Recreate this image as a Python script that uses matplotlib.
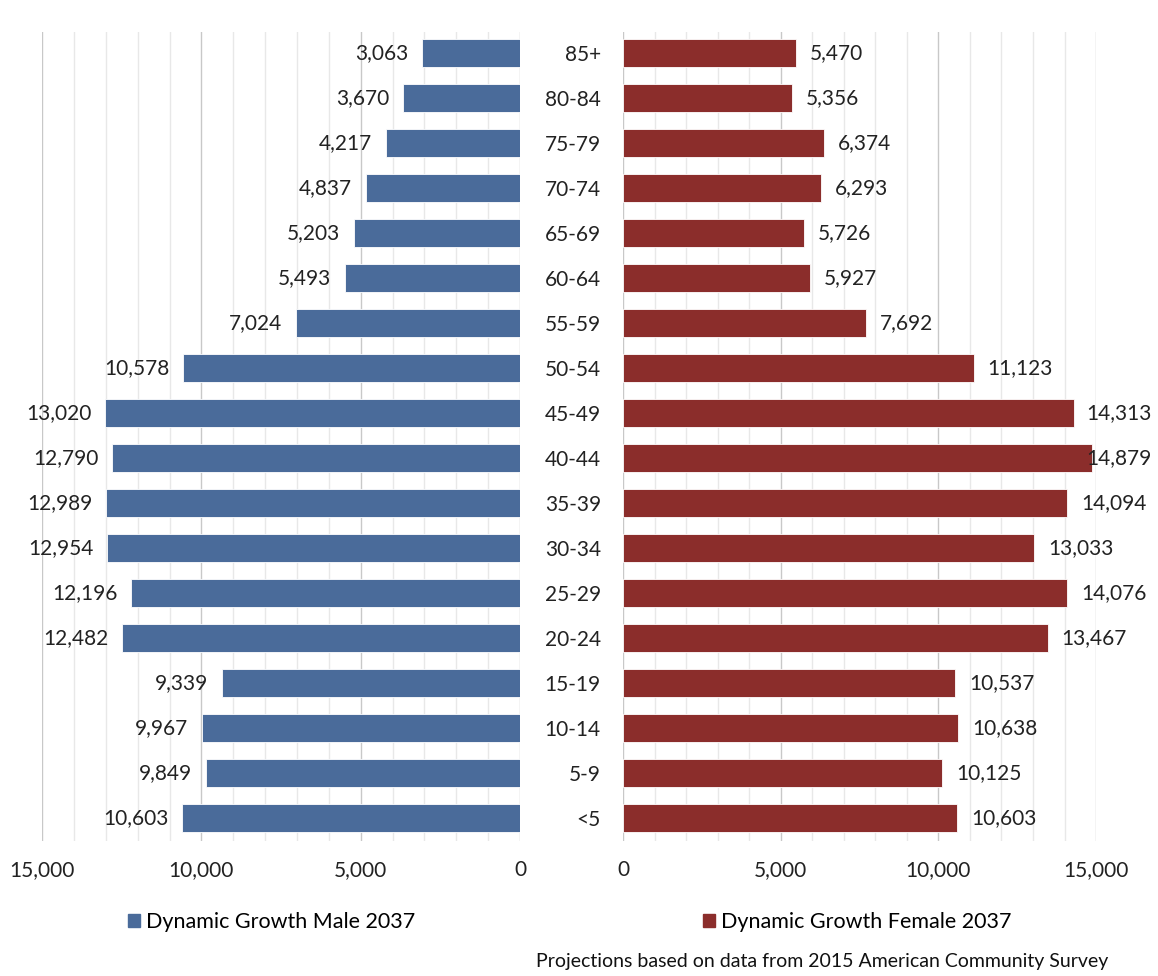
import matplotlib
matplotlib.use("Agg")
import matplotlib.pyplot as plt
from matplotlib.ticker import MultipleLocator, FuncFormatter
from matplotlib.patches import Patch

plt.rcParams["font.family"] = ["Lato", "DejaVu Sans"]

grupos = ["85+", "80-84", "75-79", "70-74", "65-69", "60-64", "55-59", "50-54",
          "45-49", "40-44", "35-39", "30-34", "25-29", "20-24", "15-19", "10-14",
          "5-9", "<5"]
hombres = [3063, 3670, 4217, 4837, 5203, 5493, 7024, 10578, 13020, 12790,
           12989, 12954, 12196, 12482, 9339, 9967, 9849, 10603]
mujeres = [5470, 5356, 6374, 6293, 5726, 5927, 7692, 11123, 14313, 14879,
           14094, 13033, 14076, 13467, 10537, 10638, 10125, 10603]

azul = "#4A6B9A"
rojo = "#8B2D2B"
texto = "#222222"
fs = 15
miles = FuncFormatter(lambda v, p: f"{int(v):,}")

fig = plt.figure(figsize=(11.58, 9.76), dpi=100)
ax_h = fig.add_axes([0.0363, 0.1383, 0.4128, 0.829])
ax_m = fig.add_axes([0.538, 0.1383, 0.4085, 0.829])

pos = list(range(len(grupos)))
ax_h.barh(pos, hombres, height=0.62, color=azul, edgecolor="white", linewidth=0.6, zorder=3)
ax_m.barh(pos, mujeres, height=0.62, color=rojo, edgecolor="white", linewidth=0.6, zorder=3)

for ax in (ax_h, ax_m):
    ax.set_xlim(0, 15000)
    ax.set_ylim(len(grupos) - 0.48, -0.47)
    ax.xaxis.set_major_locator(MultipleLocator(5000))
    ax.xaxis.set_minor_locator(MultipleLocator(1000))
    ax.xaxis.set_major_formatter(miles)
    ax.grid(axis="x", which="major", color="#c8c8c8", linewidth=1.0, zorder=0)
    ax.grid(axis="x", which="minor", color="#e8e8e8", linewidth=1.0, zorder=0)
    for s in ax.spines.values():
        s.set_visible(False)
    ax.tick_params(axis="x", which="both", length=0, labelsize=fs, colors=texto, pad=14)
    ax.tick_params(axis="y", length=0)

ax_h.invert_xaxis()
ax_h.set_yticks([])

ax_m.set_yticks(pos)
ax_m.set_yticklabels(grupos, fontsize=fs, color=texto, ha="right")
ax_m.tick_params(axis="y", pad=16)

for y, v in zip(pos, hombres):
    ax_h.annotate(f"{v:,}", (v, y), xytext=(-10, 0), textcoords="offset points",
                  ha="right", va="center", fontsize=fs, color=texto)
etiquetas_m = []
for y, v in zip(pos, mujeres):
    t = ax_m.annotate(f"{v:,}", (v, y), xytext=(10, 0), textcoords="offset points",
                      ha="left", va="center", fontsize=fs, color=texto)
    etiquetas_m.append(t)

ax_h.legend(handles=[Patch(color=azul, label="Dynamic Growth Male 2037")],
            loc="center", bbox_to_anchor=(0.48, -0.1), frameon=False,
            fontsize=fs + 0.5, handlelength=0.55, handleheight=0.55, handletextpad=0.3)
ax_m.legend(handles=[Patch(color=rojo, label="Dynamic Growth Female 2037")],
            loc="center", bbox_to_anchor=(0.495, -0.1), frameon=False,
            fontsize=fs + 0.5, handlelength=0.55, handleheight=0.55, handletextpad=0.3)

fig.text(0.957, 0.0145, "Projections based on data from 2015 American Community Survey",
         ha="right", va="center", fontsize=14, color="#111111")

# como en Excel: si una etiqueta no cabe, se corre hacia dentro
fig.canvas.draw()
r = fig.canvas.get_renderer()
limite = fig.bbox.width - 6
for t in etiquetas_m:
    bb = t.get_window_extent(r)
    if bb.x1 > limite:
        dx = (bb.x1 - limite) * 72 / fig.dpi
        t.set_position((10 - dx, 0))

fig.savefig("out.png", dpi=100)
